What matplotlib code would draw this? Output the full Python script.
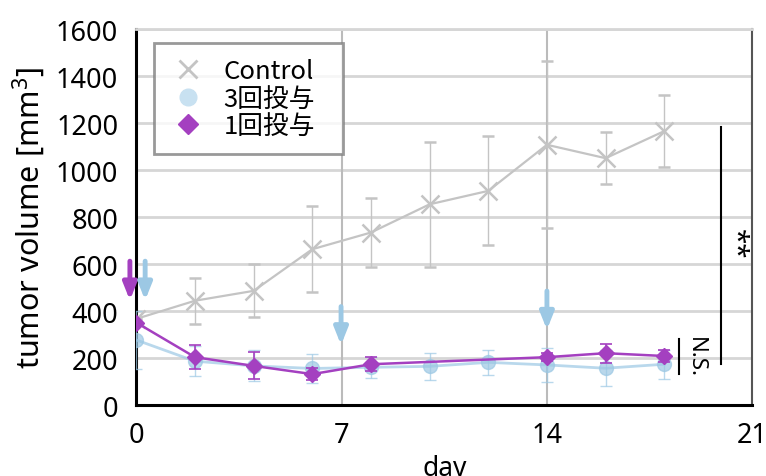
import matplotlib
matplotlib.use("Agg")
import matplotlib.pyplot as plt
from matplotlib.lines import Line2D

plt.rcParams['font.family'] = ['Noto Sans', 'Noto Sans CJK JP', 'DejaVu Sans']
plt.rcParams['mathtext.fontset'] = 'custom'
plt.rcParams['mathtext.rm'] = 'Noto Sans'

days_ctrl = [0, 2, 4, 6, 8, 10, 12, 14, 16, 18]
ctrl = [368, 445, 487, 664, 735, 855, 912, 1108, 1051, 1166]
ctrl_err = [0, 98, 113, 182, 145, 265, 232, 355, 110, 153]

days_3 = [0, 2, 4, 6, 8, 10, 12, 14, 16, 18]
three = [278, 188, 168, 157, 162, 166, 183, 172, 158, 175]
three_err = [125, 64, 66, 60, 45, 57, 53, 72, 77, 62]

days_1 = [0, 2, 4, 6, 8, 14, 16, 18]
one = [352, 205, 168, 133, 175, 205, 222, 210]
one_err = [0, 50, 57, 25, 30, 18, 40, 25]

labels = ['Control', '3回投与', '1回投与']
xticks = [0, 7, 14, 21]
yticks = [0, 200, 400, 600, 800, 1000, 1200, 1400, 1600]

# dosing arrows: (day, top value, tip value)
arrows_1 = [(-0.22, 625, 435)]
arrows_3 = [(0.3, 625, 435), (6.98, 432, 245), (14.0, 498, 310)]

fig = plt.figure(figsize=(7.66, 4.77), dpi=100)
ax = fig.add_axes([0.178, 0.148, 0.804, 0.789])

ax.set_xlim(0, 21)
ax.set_ylim(0, 1600)
ax.set_xticks(xticks)
ax.set_yticks(yticks)
ax.tick_params(labelsize=19.5, length=0)
ax.tick_params(axis='x', pad=11)
ax.tick_params(axis='y', pad=13)

for y in yticks[1:]:
    ax.axhline(y, color='#d6d6d6', lw=2, zorder=0)
for x in [7, 14]:
    ax.axvline(x, color='#bbbbbb', lw=1.5, zorder=0)

for s in ['left', 'bottom']:
    ax.spines[s].set_linewidth(2.2)
    ax.spines[s].set_color('black')
ax.spines['top'].set_color('#d6d6d6')
ax.spines['top'].set_linewidth(2)
ax.spines['right'].set_color('#555555')
ax.spines['right'].set_linewidth(1.5)

c_ctrl = '#c4c4c4'
c_3 = '#9cc8e4'
c_1 = '#a440c0'

ax.errorbar(days_ctrl, ctrl, yerr=ctrl_err, color=c_ctrl, lw=1.6, elinewidth=1.0,
            capsize=4, capthick=1.0, marker='x', ms=13, mew=1.8, label=labels[0], zorder=3)
ax.errorbar(days_3, three, yerr=three_err, color=c_3, lw=2, elinewidth=1.0,
            capsize=4, capthick=1.0, marker='o', ms=10, mew=1.0, mfc=(0.61, 0.78, 0.89, 0.55),
            mec=c_3, alpha=0.7, label=labels[1], zorder=4)
ax.errorbar(days_1, one, yerr=one_err, color=c_1, lw=1.8, elinewidth=1.2,
            capsize=4, capthick=1.2, marker='D', ms=8, label=labels[2], zorder=5)

for x, y0, y1 in arrows_1:
    ax.annotate('', xy=(x, y1), xytext=(x, y0),
                arrowprops=dict(arrowstyle='-|>,head_width=0.4,head_length=1.0',
                                color=c_1, lw=3.5), zorder=6, annotation_clip=False)
for x, y0, y1 in arrows_3:
    ax.annotate('', xy=(x, y1), xytext=(x, y0),
                arrowprops=dict(arrowstyle='-|>,head_width=0.4,head_length=1.0',
                                color=c_3, lw=3.5), zorder=6, annotation_clip=False)

# significance marks
ax.plot([19.92, 19.92], [175, 1183], color='black', lw=1.5)
ax.text(20.4, 690, '**', rotation=-90, ha='center', va='center', fontsize=20,
        fontweight='bold')
ax.plot([18.52, 18.52], [132, 282], color='black', lw=1.5)
ax.text(19.05, 210, 'N.S.', rotation=-90, ha='center', va='center', fontsize=16)

ax.set_ylabel('tumor volume [mm$^{\\mathregular{3}}$]', fontsize=22, labelpad=6)
ax.set_xlabel('day', fontsize=19, labelpad=4)

handles = [Line2D([], [], ls='none', marker='x', ms=13, mew=2, color=c_ctrl),
           Line2D([], [], ls='none', marker='o', ms=12, color='#c8e1f1'),
           Line2D([], [], ls='none', marker='D', ms=10, color=c_1)]
leg = ax.legend(handles, labels, loc='upper left',
                bbox_to_anchor=(0.029, 0.70, 0.306, 0.263), mode='expand',
                frameon=True, fancybox=False, borderpad=0.6,
                labelspacing=0.05, handletextpad=0.7, handlelength=1.4,
                borderaxespad=0, prop={'family': ['Noto Sans CJK JP'], 'size': 18.5})
leg.get_frame().set_edgecolor('#808080')
leg.get_frame().set_linewidth(2)

fig.savefig('out.png', dpi=100)
